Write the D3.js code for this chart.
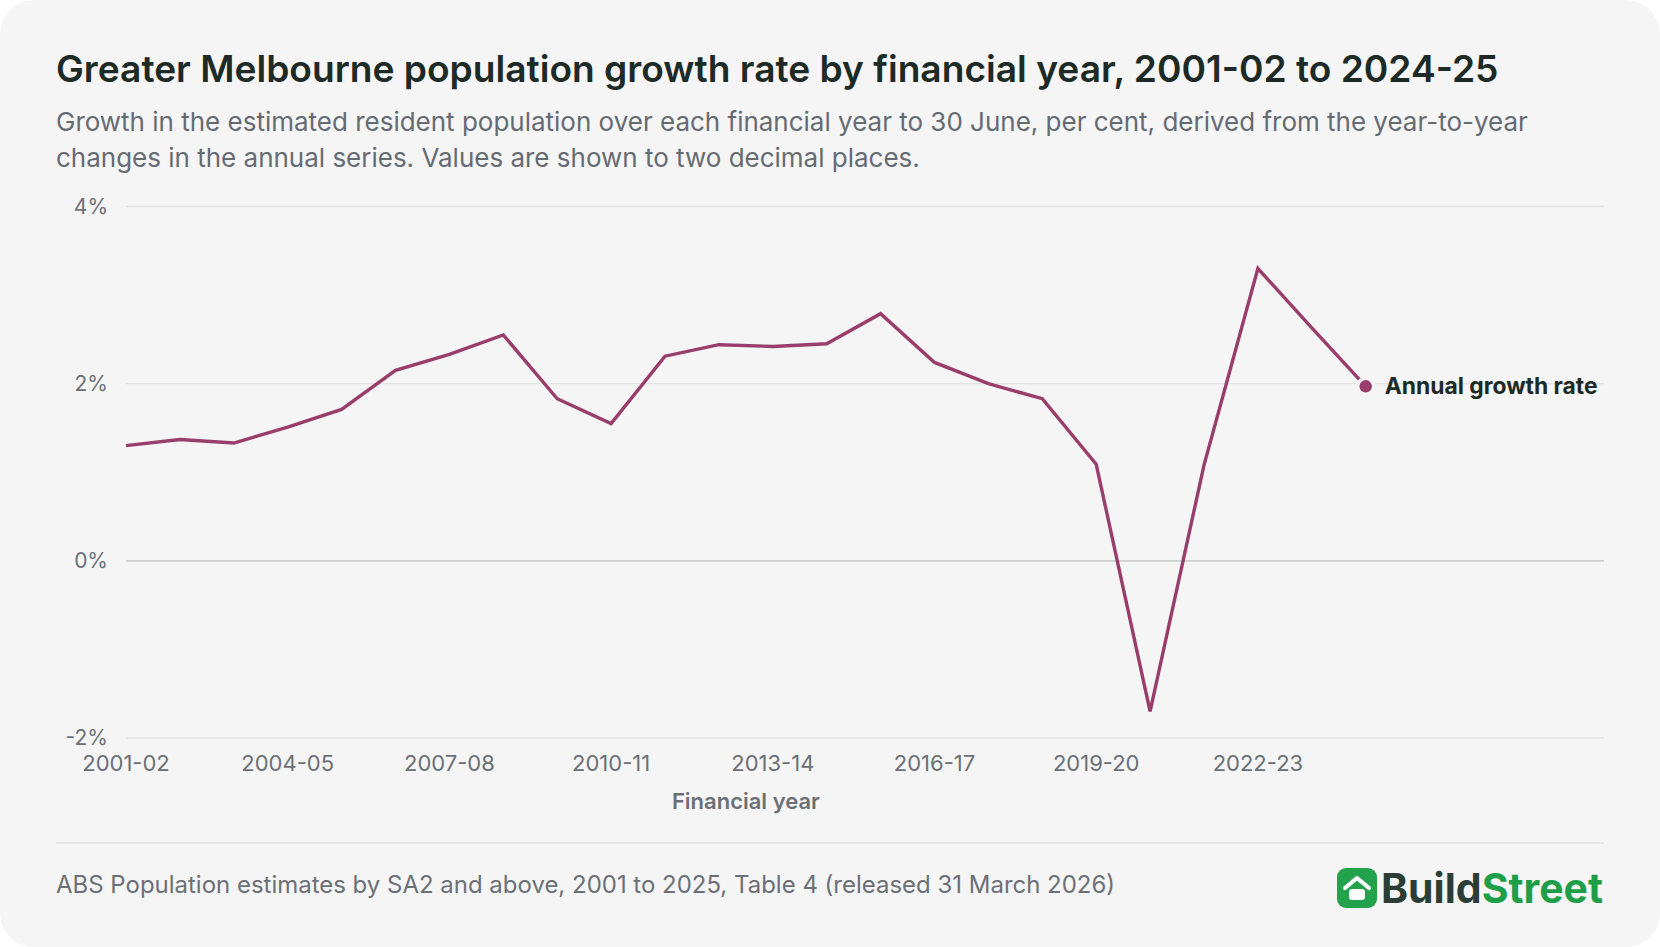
<!DOCTYPE html>
<html>
<head>
<meta charset="utf-8">
<script src="https://cdn.jsdelivr.net/npm/d3@7/dist/d3.min.js"></script>
<style>
  html, body { margin: 0; padding: 0; background: #ffffff; }
  svg { display: block; font-family: Inter, "Noto Sans", sans-serif; }
</style>
</head>
<body>
<svg id="chart" width="1660" height="947"></svg>
<script>
const categories = ["2001-02","2002-03","2003-04","2004-05","2005-06","2006-07","2007-08","2008-09","2009-10","2010-11","2011-12","2012-13","2013-14","2014-15","2015-16","2016-17","2017-18","2018-19","2019-20","2020-21","2021-22","2022-23","2023-24","2024-25"];
const growthRate = [1.30,1.37,1.33,1.51,1.71,2.15,2.33,2.55,1.83,1.55,2.31,2.44,2.42,2.45,2.79,2.24,2.00,1.83,1.09,-1.70,1.08,3.30,2.63,1.97];
const yTicks = [-2, 0, 2, 4];
const xTickLabels = ["2001-02","2004-05","2007-08","2010-11","2013-14","2016-17","2019-20","2022-23"];
const seriesName = "Annual growth rate";
const titleText = "Greater Melbourne population growth rate by financial year, 2001-02 to 2024-25";
const subtitleLines = ["Growth in the estimated resident population over each financial year to 30 June, per cent, derived from the year-to-year", "changes in the annual series. Values are shown to two decimal places."];
const sourceText = "ABS Population estimates by SA2 and above, 2001 to 2025, Table 4 (released 31 March 2026)";
const xAxisTitle = "Financial year";

const W = 1660, H = 947;
const svg = d3.select("#chart");

// fit a text element's font size so its width matches a target
function fit(sel, target) {
  const node = sel.node();
  const fs = parseFloat(sel.attr("font-size"));
  const w = node.getComputedTextLength();
  if (w > 0) sel.attr("font-size", (fs * target / w).toFixed(2));
  return sel;
}

// card
svg.append("rect").attr("x", 0).attr("y", 0).attr("width", W).attr("height", H)
  .attr("rx", 34).attr("fill", "#f5f5f5");

const left = 126, gridRight = 1604;
const step = 53.9;
const x = d3.scalePoint().domain(categories).range([left, left + step * (categories.length - 1)]);
const y = d3.scaleLinear().domain([-2, 4]).range([738, 206.5]);

// title
fit(svg.append("text").attr("x", 56).attr("y", 82)
  .attr("font-size", 37).attr("font-weight", 600).attr("fill", "#1d2a26")
  .text(titleText), 1443);
const subs = svg.selectAll("text.sub").data(subtitleLines).join("text").attr("class", "sub")
  .attr("x", 56).attr("y", (d, i) => 131 + i * 36)
  .attr("font-size", 26).attr("fill", "#656b73")
  .text(d => d);
{
  const first = d3.select(subs.nodes()[0]);
  fit(first, 1472);
  subs.attr("font-size", first.attr("font-size"));
}

// gridlines
const grid = svg.append("g");
grid.selectAll("line").data(yTicks).join("line")
  .attr("x1", left).attr("x2", gridRight)
  .attr("y1", d => y(d)).attr("y2", d => y(d))
  .attr("stroke", d => d === 0 ? "#cfcfcf" : "#e3e3e3")
  .attr("stroke-width", d => d === 0 ? 1.6 : 1.3);

// y labels
svg.append("g").selectAll("text").data(yTicks).join("text")
  .attr("x", 108).attr("y", d => y(d)).attr("dy", "0.35em")
  .attr("text-anchor", "end").attr("font-size", 21).attr("fill", "#6b7076")
  .text(d => d + "%");

// x labels
svg.append("g").selectAll("text").data(xTickLabels).join("text")
  .attr("x", d => x(d)).attr("y", 771)
  .attr("text-anchor", "middle").attr("font-size", 22).attr("fill", "#6b7076")
  .text(d => d);

svg.append("text").attr("x", (x.range()[0] + x.range()[1]) / 2).attr("y", 809)
  .attr("text-anchor", "middle").attr("font-size", 22).attr("font-weight", 600).attr("fill", "#6b7076")
  .text(xAxisTitle);

// line
const line = d3.line().x((d, i) => x(categories[i])).y(d => y(d));
svg.append("path").datum(growthRate).attr("d", line)
  .attr("fill", "none").attr("stroke", "#993d6b").attr("stroke-width", 3.4)
  .attr("stroke-linejoin", "miter");

// end dot & label
const lastI = growthRate.length - 1;
svg.append("circle").attr("cx", x(categories[lastI])).attr("cy", y(growthRate[lastI]))
  .attr("r", 6.2).attr("fill", "#993d6b").attr("stroke", "#f5f5f5").attr("stroke-width", 7)
  .style("paint-order", "stroke");
fit(svg.append("text").attr("x", x(categories[lastI]) + 19).attr("y", y(growthRate[lastI])).attr("dy", "0.35em")
  .attr("font-size", 22).attr("font-weight", 700).attr("fill", "#1d2a26")
  .text(seriesName), 213);

// separator
svg.append("line").attr("x1", 56).attr("x2", gridRight).attr("y1", 843).attr("y2", 843)
  .attr("stroke", "#e1e1e1").attr("stroke-width", 1.5);

// source
fit(svg.append("text").attr("x", 56).attr("y", 893)
  .attr("font-size", 23).attr("fill", "#6b7076").text(sourceText), 1059);

// logo
const logo = svg.append("g").attr("transform", "translate(1337,868)");
logo.append("rect").attr("width", 40).attr("height", 40).attr("rx", 9).attr("fill", "#22a24a");
logo.append("path").attr("d", "M8,20 L20,10 L32,20").attr("fill", "none")
  .attr("stroke", "#ffffff").attr("stroke-width", 4.2).attr("stroke-linecap", "round").attr("stroke-linejoin", "round");
logo.append("rect").attr("x", 12).attr("y", 21).attr("width", 16).attr("height", 11).attr("rx", 3).attr("fill", "#ffffff");
const lt = svg.append("text").attr("x", 1381).attr("y", 903)
  .attr("font-size", 41).attr("font-weight", 700);
lt.append("tspan").attr("fill", "#2b3d35").text("Build");
lt.append("tspan").attr("fill", "#1f9e4a").text("Street");
fit(lt, 222);
</script>
</body>
</html>
